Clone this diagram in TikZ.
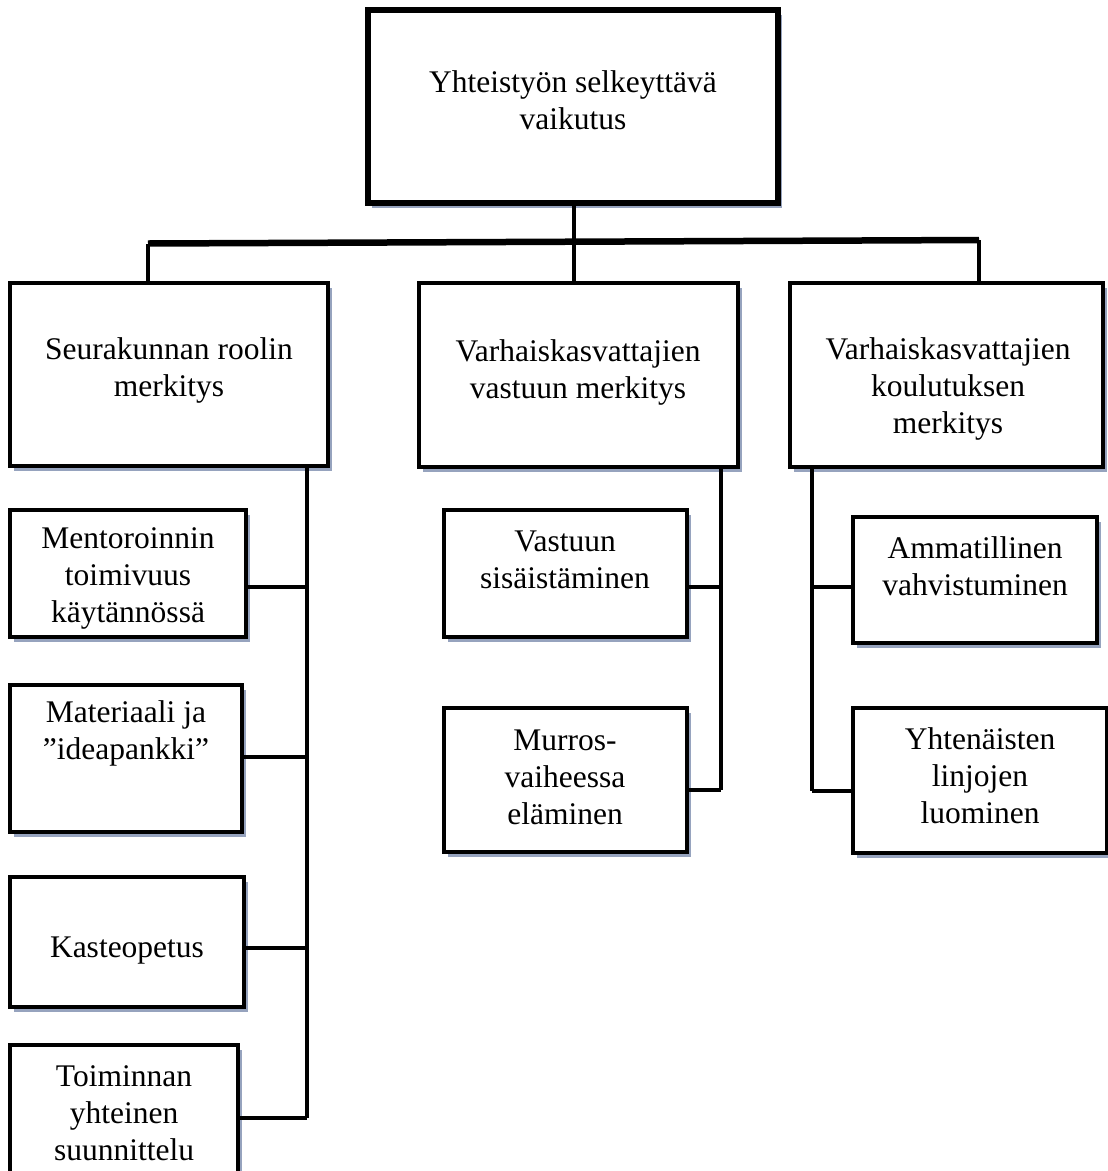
\documentclass[tikz,border=0pt]{standalone}
\usepackage{fontspec}
\setmainfont{Liberation Serif}
\usetikzlibrary{shadows}

\definecolor{shadowblue}{RGB}{150,163,190}

\tikzset{every picture/.style={line width=0.75pt}}
\tikzset{
  boxshadow/.style={drop shadow={shadow xshift=3.5pt, shadow yshift=-4.5pt, fill=shadowblue, opacity=1}},
  topbox/.style={draw, line width=6pt, fill=white, inner sep=0pt, outer sep=0pt, boxshadow},
  headbox/.style={draw, line width=4.5pt, fill=white, inner sep=0pt, outer sep=0pt, boxshadow},
  subbox/.style={draw, line width=3.2pt, fill=white, inner sep=0pt, outer sep=0pt, boxshadow},
  txt/.style={align=center, inner sep=0pt, font=\fontsize{31.5}{37}\selectfont},
  link/.style={line width=4pt},
}

\begin{document}
\begin{tikzpicture}[x=1pt,y=1pt,yscale=-1,xscale=1]
\useasboundingbox (0,0) rectangle (1108,1171);

%Joints of the tree
\coordinate (barL) at (148,243.5);
\coordinate (barM) at (574,241.8);
\coordinate (barR) at (979,240);
\coordinate (colA) at (307,466);
\coordinate (colB) at (721,467);
\coordinate (colC) at (812,467);
\coordinate (tapA1) at (307,587);
\coordinate (tapA2) at (307,757);
\coordinate (tapA3) at (307,948);
\coordinate (tapA4) at (307,1118);
\coordinate (tapB1) at (721,587);
\coordinate (tapB2) at (721,790);
\coordinate (tapC1) at (812,587);
\coordinate (tapC2) at (812,791);

%Shape: Rectangle (main)
\node [topbox, minimum width=410, minimum height=193] (main) at (573,106.5) {};

%Shape: Rectangles (second level)
\node [headbox, minimum width=318, minimum height=183] (seura) at (169,374.5) {};
\node [headbox, minimum width=319, minimum height=184] (vastuu) at (578.5,375) {};
\node [headbox, minimum width=313, minimum height=184] (koulu) at (946.5,375) {};

%Straight Lines (tree)
\draw [link] (main.south -| barM) -- (barM);
\draw [line width=6.5pt] (barL) -- (barR);
\draw [link] (barL) -- (barL |- seura.north);
\draw [link] (barM) -- (barM |- vastuu.north);
\draw [link] (barR) -- (barR |- koulu.north);

%Shape: Rectangles (left column)
\node [subbox, minimum width=236, minimum height=127] (mentor) at (128,573.5) {};
\node [subbox, minimum width=232, minimum height=147] (materia) at (126,758.5) {};
\node [subbox, minimum width=234, minimum height=130] (kaste) at (127,942) {};
\node [subbox, minimum width=228, minimum height=155] (suunn) at (124,1122.5) {};

%Shape: Rectangles (middle column)
\node [subbox, minimum width=243, minimum height=127] (sisais) at (565.5,573.5) {};
\node [subbox, minimum width=243, minimum height=144] (murros) at (565.5,780) {};

%Shape: Rectangles (right column)
\node [subbox, minimum width=244, minimum height=126] (ammat) at (975,580) {};
\node [subbox, minimum width=254, minimum height=145] (linjat) at (980,780.5) {};

%Straight Lines (columns)
\draw [link] (colA) -- (tapA4);
\draw [link] (tapA1 -| mentor.east) -- (tapA1);
\draw [link] (tapA2 -| materia.east) -- (tapA2);
\draw [link] (tapA3 -| kaste.east) -- (tapA3);
\draw [link] (tapA4 -| suunn.east) -- (tapA4);
\draw [link] (colB) -- (tapB2);
\draw [link] (tapB1 -| sisais.east) -- (tapB1);
\draw [link] (tapB2 -| murros.east) -- (tapB2);
\draw [link] (colC) -- (tapC2);
\draw [link] (tapC1 -| ammat.west) -- (tapC1);
\draw [link] (tapC2 -| linjat.west) -- (tapC2);

% Text Node
\node [txt] (maint) at (573,100) {Yhteistyön selkeyttävä\\vaikutus};
% Text Node
\node [txt] (seurat) at (169,370) {Seurakunnan roolin\\merkitys};
% Text Node
\node [txt] (vastuut) at (578,372) {Varhaiskasvattajien\\vastuun merkitys};
% Text Node
\node [txt] (koulut) at (948,389) {Varhaiskasvattajien\\koulutuksen\\merkitys};
% Text Node
\node [txt] (mentort) at (128,578) {Mentoroinnin\\toimivuus\\käytännössä};
% Text Node
\node [txt] (materiat) at (126,733) {Materiaali ja\\”ideapankki”};
% Text Node
\node [txt] (kastet) at (127,951) {Kasteopetus};
% Text Node
\node [txt] (suunnt) at (124,1113) {Toiminnan\\yhteinen\\suunnittelu};
% Text Node
\node [txt] (sisaist) at (565,560) {Vastuun\\sisäistäminen};
% Text Node
\node [txt] (murrost) at (565,777) {Murros-\\vaiheessa\\eläminen};
% Text Node
\node [txt] (ammatt) at (975,566) {Ammatillinen\\vahvistuminen};
% Text Node
\node [txt] (linjatt) at (980,776) {Yhtenäisten\\linjojen\\luominen};

\end{tikzpicture}
\end{document}
